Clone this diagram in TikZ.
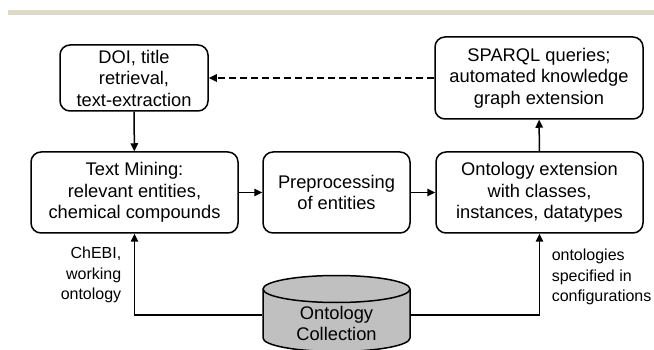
\documentclass[tikz,border=0pt]{standalone}
\usepackage{fontspec}
\setmainfont{Liberation Sans}
\usepackage{tikz}
\usetikzlibrary{arrows.meta}
\definecolor{rulebeige}{RGB}{221,218,200}
\definecolor{dbgray}{RGB}{192,192,192}

\begin{document}
\begin{tikzpicture}[x = 1pt, y = -1pt, > = {Triangle[length=8pt, width=7.5pt]}, line width = 1.5pt, every node/.style = {font=\fontsize{18.3}{21.5}\selectfont, align=center, inner sep=0pt}, proc/.style = {draw, rounded corners=10pt, minimum width=207pt, minimum height=81pt}, src/.style = {font=\fontsize{16}{20.5}\selectfont}]
    \clip (0, 0) rectangle (654, 350);
    \draw[rulebeige, line width=5pt] (8, 12.5) -- (654, 12.5);
    \node[proc, minimum width=148pt, minimum height=66pt] (doi) at (134, 78) {DOI, title\\retrieval,\\text-extraction};
    \node[proc, minimum width=208pt, minimum height=82pt] (sparql) at (539, 78) {SPARQL queries;\\automated knowledge\\graph extension};
    \node[proc] (mining) at (134.5, 192.5) {Text Mining:\\relevant entities,\\chemical compounds};
    \node[proc, minimum width=147pt] (prep) at (336.5, 192.5) {Preprocessing\\of entities};
    \node[proc] (ontext) at (539.5, 192.5) {Ontology extension\\with classes,\\instances, datatypes};
    % database cylinder
    \filldraw[fill=dbgray] (263, 289) -- (263, 338) arc[start angle=180, end angle=360, x radius=73.5pt, y radius=13.5pt] -- (410, 289) arc[start angle=0, end angle=180, x radius=73.5pt, y radius=13.5pt] -- cycle;
    \draw (263, 289) arc[start angle=180, end angle=360, x radius=73.5pt, y radius=13.5pt];
    \node[minimum width=147pt] (coll) at (336.5, 323.5) {Ontology\\Collection};
    \node[src, anchor=east, align=right] (chebi) at (122, 275) {ChEBI,\\working\\ontology};
    \node[src, anchor=west, align=left] (cfg) at (551, 277) {ontologies\\specified in\\configurations};
    \draw[->] (doi) -- (mining);
    \draw[->] (mining) -- (prep);
    \draw[->] (prep) -- (ontext);
    \draw[->] (ontext) -- (sparql);
    \draw[->, dash pattern=on 7pt off 4pt] (sparql) -- (doi);
    \draw[->] ([yshift=8.5pt]coll.west) -| (mining);
    \draw[->] ([yshift=8.5pt]coll.east) -| (ontext);
\end{tikzpicture}
\end{document}
